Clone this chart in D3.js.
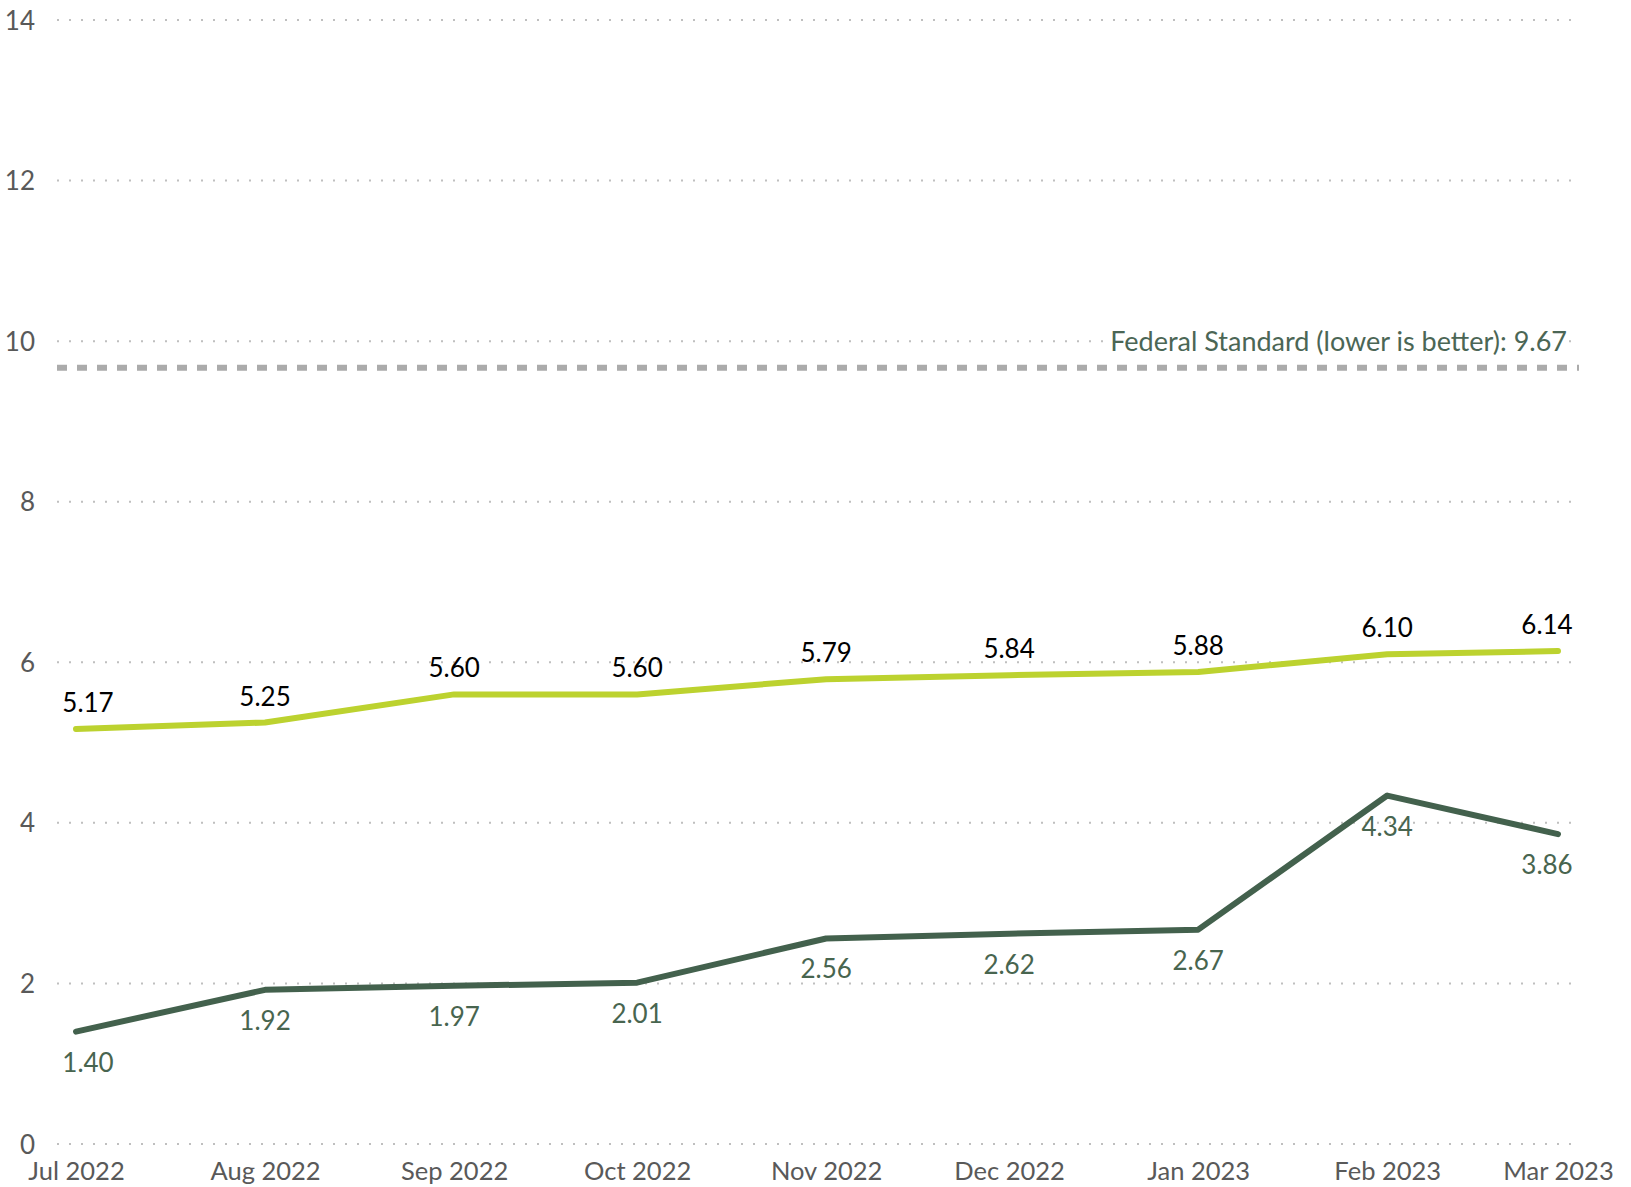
<!DOCTYPE html>
<html>
<head>
<meta charset="utf-8">
<script src="https://cdn.jsdelivr.net/npm/d3@7"></script>
<style>
  html, body { margin: 0; padding: 0; background: #fff; }
  svg { display: block; font-family: Lato, "Open Sans", sans-serif; }
</style>
</head>
<body>
<svg id="chart" width="1631" height="1187"></svg>
<script>
// ---- data ----
const monthLabels = ["Jul 2022","Aug 2022","Sep 2022","Oct 2022","Nov 2022","Dec 2022","Jan 2023","Feb 2023","Mar 2023"];
const monthDates = ["2022-07-01","2022-08-01","2022-09-01","2022-10-01","2022-11-01","2022-12-01","2023-01-01","2023-02-01","2023-03-01"];
const lightSeries = [5.17, 5.25, 5.60, 5.60, 5.79, 5.84, 5.88, 6.10, 6.14];
const darkSeries = [1.40, 1.92, 1.97, 2.01, 2.56, 2.62, 2.67, 4.34, 3.86];
const yTicks = [0, 2, 4, 6, 8, 10, 12, 14];
const federalStandard = 9.67;
const federalLabel = "Federal Standard (lower is better): 9.67";

// ---- layout ----
const svg = d3.select("#chart");
const parse = d3.utcParse("%Y-%m-%d");
const dates = monthDates.map(parse);

const x = d3.scaleUtc().domain([dates[0], dates[dates.length - 1]]).range([76, 1558]);
const y = d3.scaleLinear().domain([0, 14]).range([1144, 20]);

const gridLeft = 57, gridRight = 1571;

// gridlines
svg.append("g").selectAll("line").data(yTicks).join("line")
  .attr("x1", gridLeft).attr("x2", gridRight)
  .attr("y1", d => y(d)).attr("y2", d => y(d))
  .attr("stroke", "#bfbfbf").attr("stroke-width", 2)
  .attr("stroke-dasharray", "2 10");

// y axis labels
const yAxis = d3.axisLeft(y).tickValues(yTicks).tickSize(0).tickPadding(0).tickFormat(d3.format("d"));
const yg = svg.append("g").attr("transform", "translate(35,0)").call(yAxis);
yg.select(".domain").remove();
yg.selectAll("text").attr("font-size", 26).attr("fill", "#595959")
  .attr("font-family", "Lato, 'Open Sans', sans-serif").attr("dy", "0.35em");

// x axis labels
const xAxis = d3.axisBottom(x).tickValues(dates).tickSize(0).tickPadding(0)
  .tickFormat((d, i) => monthLabels[i]);
const xg = svg.append("g").attr("transform", "translate(0,1162)").call(xAxis);
xg.select(".domain").remove();
xg.selectAll("text").attr("font-size", 25.5).attr("fill", "#595959")
  .attr("font-family", "Lato, 'Open Sans', sans-serif").attr("dy", "0.71em");

// federal standard line
svg.append("line")
  .attr("x1", gridLeft).attr("x2", 1579)
  .attr("y1", y(federalStandard)).attr("y2", y(federalStandard))
  .attr("stroke", "#ababab").attr("stroke-width", 6)
  .attr("stroke-dasharray", "10 10");
const fedG = svg.append("g");
const fedBg = fedG.append("rect").attr("fill", "#fff");
const fedText = fedG.append("text")
  .attr("x", 1567).attr("y", y(federalStandard) - 17)
  .attr("text-anchor", "end").attr("font-size", 27).attr("fill", "#4b6655")
  .text(federalLabel);
const bb = fedText.node().getBBox();
fedBg.attr("x", bb.x - 2).attr("y", bb.y + 4).attr("width", bb.width + 4).attr("height", bb.height - 6);

// lines
const line = d3.line().x((d, i) => x(dates[i])).y(d => y(d));
svg.append("path").datum(lightSeries).attr("d", line)
  .attr("fill", "none").attr("stroke", "#bcd22f").attr("stroke-width", 6)
  .attr("stroke-linecap", "round").attr("stroke-linejoin", "round");
svg.append("path").datum(darkSeries).attr("d", line)
  .attr("fill", "none").attr("stroke", "#43614d").attr("stroke-width", 6)
  .attr("stroke-linecap", "round").attr("stroke-linejoin", "round");

// data labels
const shift = i => (i === 0 ? 12 : (i === dates.length - 1 ? -11 : 0));
svg.append("g").selectAll("text").data(lightSeries).join("text")
  .attr("x", (d, i) => x(dates[i]) + shift(i))
  .attr("y", d => y(d) - 17)
  .attr("text-anchor", "middle").attr("font-size", 26).attr("fill", "#000")
  .text(d => d.toFixed(2));
svg.append("g").selectAll("text").data(darkSeries).join("text")
  .attr("x", (d, i) => x(dates[i]) + shift(i))
  .attr("y", d => y(d) + 40)
  .attr("text-anchor", "middle").attr("font-size", 26).attr("fill", "#48654f")
  .text(d => d.toFixed(2));
</script>
</body>
</html>
